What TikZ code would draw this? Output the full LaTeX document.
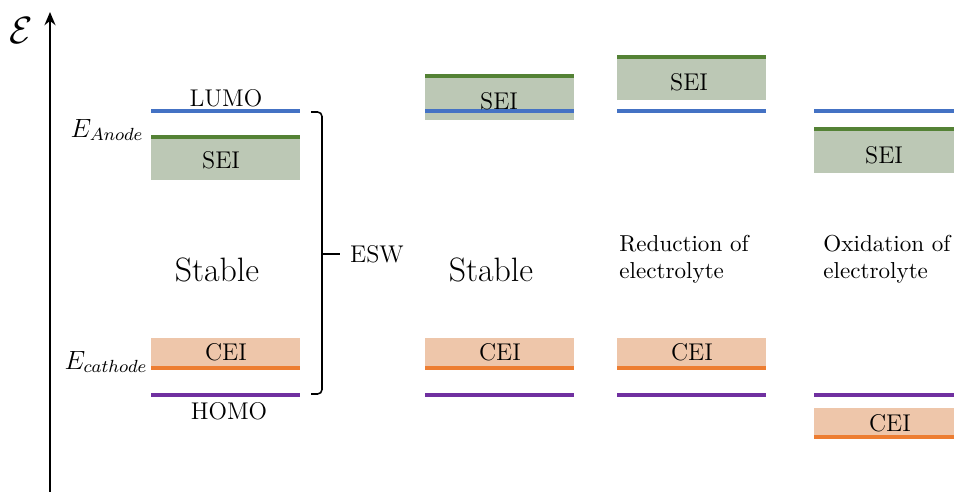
\documentclass[tikz,border=0pt]{standalone}
\usetikzlibrary{arrows.meta}
\definecolor{lumoblue}{HTML}{4472C4}
\definecolor{seigreen}{HTML}{548235}
\definecolor{ceiorange}{HTML}{ED7D31}
\definecolor{homopurple}{HTML}{7030A0}
\definecolor{seifill}{HTML}{BCC8B5}
\definecolor{ceifill}{HTML}{EEC6AA}
\begin{document}
\begin{tikzpicture}[x=0.455pt,y=-0.455pt]
    \tikzstyle{lvl}=[line width=1.4pt]
    \tikzstyle{sei}=[fill=seifill]
    \tikzstyle{cei}=[fill=ceifill]
    \tikzstyle{lbl}=[inner sep=0pt, font=\fontsize{11}{13}\selectfont]
    \tikzstyle{elbl}=[inner sep=0pt, anchor=east, font=\fontsize{11.8}{14}\selectfont]
    \tikzstyle{big}=[inner sep=0pt, font=\fontsize{15.4}{18}\selectfont]
    \tikzstyle{note}=[inner sep=0pt, anchor=west, align=left, font=\fontsize{10.5}{12.3}\selectfont]

\useasboundingbox (0,0) rectangle (954,492);

% energy axis
\coordinate (ax0) at (50,492);
\coordinate (ax1) at (50,12);
\draw[line width=1pt,-{Stealth[length=6pt,width=5pt]}] (ax0) -- (ax1);
\node[inner sep=0pt, font=\fontsize{16}{19}\selectfont] (eps) at (21,31) {$\mathcal{E}$};

% boxes
\fill[sei] (151,137) rectangle (300,180);
\fill[sei] (425,76) rectangle (574,120);
\fill[sei] (617,57) rectangle (766,100);
\fill[sei] (814,129) rectangle (954,173);
\foreach \x in {151,425,617}{
\fill[cei] (\x,338) rectangle (\x+149,368);
\draw[lvl,ceiorange] (\x,368) -- (\x+149,368);
};
\fill[cei] (814,408) rectangle (954,437);
\draw[lvl,ceiorange] (814,437) -- (954,437);

% levels
\draw[lvl,seigreen] (151,137) -- (300,137);
\draw[lvl,seigreen] (425,76) -- (574,76);
\draw[lvl,seigreen] (617,57) -- (766,57);
\draw[lvl,seigreen] (814,129) -- (954,129);
\foreach \x/\w in {151/149,425/149,617/149,814/140}{
\draw[lvl,lumoblue] (\x,111) -- (\x+\w,111);
\draw[lvl,homopurple] (\x,395) -- (\x+\w,395);
};

% labels
\node[lbl] (lumo) at (226,98) {LUMO};
\node[lbl] (homo) at (229,411) {HOMO};
\node[lbl] (sei1) at (221,160) {SEI};
\node[lbl] (sei2) at (499,101) {SEI};
\node[lbl] (sei3) at (689,82) {SEI};
\node[lbl] (sei4) at (884,155) {SEI};
\node[lbl] (cei1) at (226,352) {CEI};
\node[lbl] (cei2) at (500,352) {CEI};
\node[lbl] (cei3) at (692,352) {CEI};
\node[lbl] (cei4) at (890,423) {CEI};
\node[elbl] (ean) at (144,130) {$E_{Anode}$};
\node[elbl] (eca) at (148,362) {$E_{cathode}$};
\node[big] (st1) at (217,270) {Stable};
\node[big] (st2) at (491,270) {Stable};
\node[note] (red) at (619,259) {Reduction of\\electrolyte};
\node[note] (oxi) at (823,259) {Oxidation of\\electrolyte};

% window
\coordinate (bt) at (311,112);
\coordinate (bm) at (322,254);
\coordinate (bb) at (311,394);
\coordinate (tip) at (340,254);
\draw[line width=0.7pt,rounded corners=2pt] (bt) -| (bm) |- (bb);
\draw[line width=0.7pt] (bm) -- (tip);
\node[lbl] (esw) at (377,254) {ESW};
\end{tikzpicture}
\end{document}
